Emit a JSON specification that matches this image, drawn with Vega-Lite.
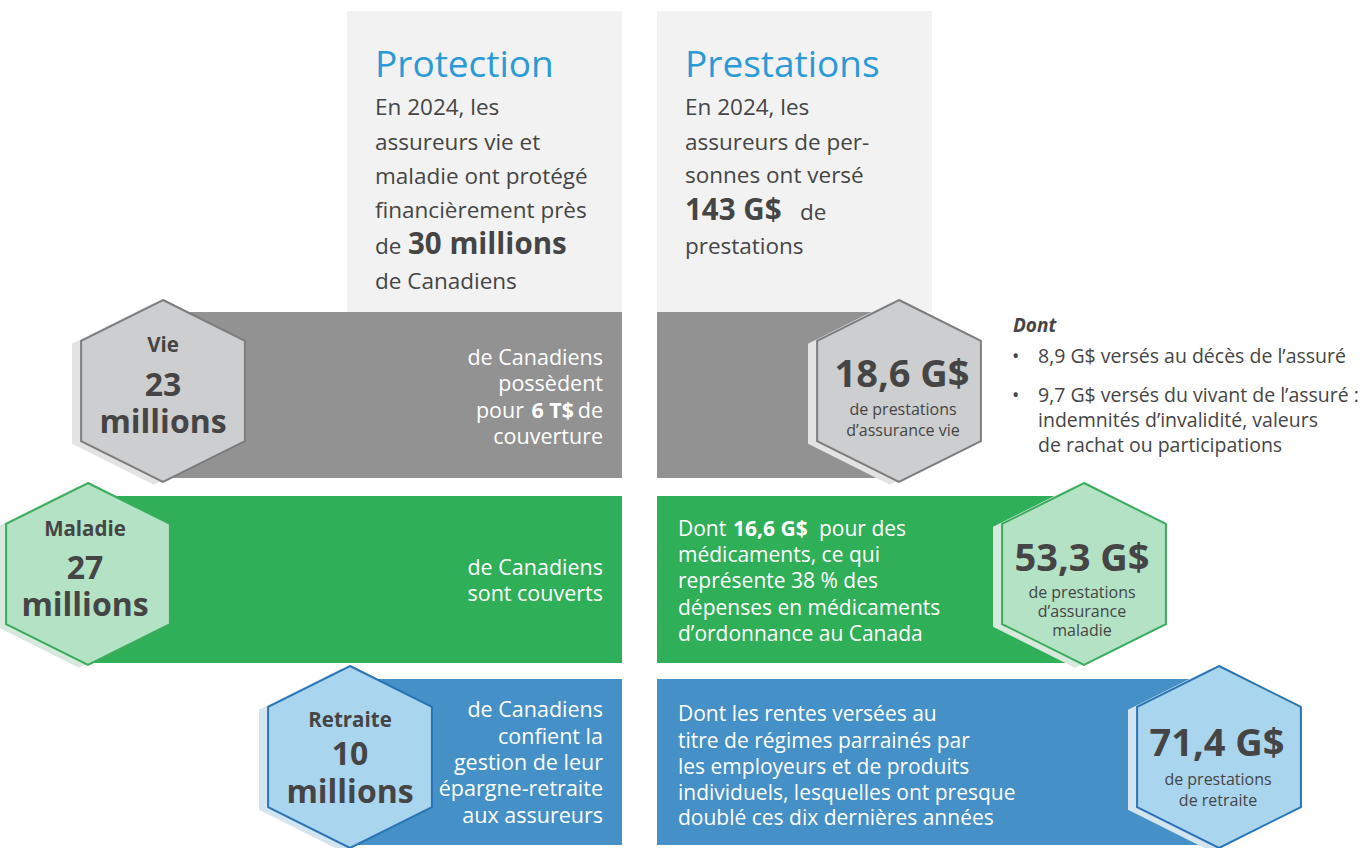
{
  "$schema": "https://vega.github.io/schema/vega-lite/v6.json",
  "width": 1369,
  "height": 848,
  "padding": 0,
  "autosize": {"type": "none"},
  "background": "white",
  "config": {"view": {"stroke": null}, "text": {"font": "Open Sans"}},
  "datasets": {
    "panels": [
      {"x": 347, "x2": 622, "y": 11, "y2": 312, "kind": "header"},
      {"x": 657, "x2": 932, "y": 11, "y2": 312, "kind": "header"},
      {"x": 150, "x2": 622, "y": 312, "y2": 478, "kind": "gray"},
      {"x": 657, "x2": 890, "y": 312, "y2": 478, "kind": "gray"},
      {"x": 90, "x2": 622, "y": 496, "y2": 663, "kind": "green"},
      {"x": 657, "x2": 1075, "y": 496, "y2": 663, "kind": "green"},
      {"x": 355, "x2": 622, "y": 679, "y2": 845, "kind": "blue"},
      {"x": 657, "x2": 1215, "y": 679, "y2": 845, "kind": "blue"}
    ],
    "hexes": [
      {"name": "Vie", "x": 163, "y": 391, "theme": "gray"},
      {"name": "Prestations vie", "x": 899, "y": 391, "theme": "gray"},
      {"name": "Maladie", "x": 88, "y": 574, "theme": "green"},
      {"name": "Prestations maladie", "x": 1084, "y": 574, "theme": "green"},
      {"name": "Retraite", "x": 350, "y": 757, "theme": "blue"},
      {"name": "Prestations retraite", "x": 1219, "y": 757, "theme": "blue"}
    ],
    "texts": [
      {"role": "title", "x": 375, "y": 66, "text": "Protection"},
      {"role": "title", "x": 685, "y": 66, "text": "Prestations"},
      {"role": "body", "x": 375, "y": 108, "text": "En 2024, les"},
      {"role": "body", "x": 375, "y": 143, "text": "assureurs vie et"},
      {"role": "body", "x": 375, "y": 177, "text": "maladie ont protégé"},
      {"role": "body", "x": 375, "y": 211, "text": "financièrement près"},
      {"role": "body", "x": 375, "y": 247, "text": "de"},
      {"role": "body", "x": 375, "y": 282, "text": "de Canadiens"},
      {"role": "body", "x": 685, "y": 108, "text": "En 2024, les"},
      {"role": "body", "x": 685, "y": 143, "text": "assureurs de per-"},
      {"role": "body", "x": 685, "y": 176, "text": "sonnes ont versé"},
      {"role": "body", "x": 800, "y": 213, "text": "de"},
      {"role": "body", "x": 685, "y": 247, "text": "prestations"},
      {"role": "bodybold", "x": 408, "y": 245, "text": "30 millions"},
      {"role": "bodybold", "x": 685, "y": 211, "text": "143 G$"},
      {"role": "bandright", "x": 603, "y": 359, "text": "de Canadiens"},
      {"role": "bandright", "x": 603, "y": 385, "text": "possèdent"},
      {"role": "bandright", "x": 603, "y": 412, "text": "de"},
      {"role": "bandrightbold", "x": 574, "y": 412, "text": "6 T$"},
      {"role": "bandright", "x": 524, "y": 412, "text": "pour"},
      {"role": "bandright", "x": 603, "y": 438, "text": "couverture"},
      {"role": "bandright", "x": 603, "y": 569, "text": "de Canadiens"},
      {"role": "bandright", "x": 603, "y": 595, "text": "sont couverts"},
      {"role": "bandright", "x": 603, "y": 711, "text": "de Canadiens"},
      {"role": "bandright", "x": 603, "y": 738, "text": "confient la"},
      {"role": "bandright", "x": 603, "y": 764, "text": "gestion de leur"},
      {"role": "bandright", "x": 603, "y": 790, "text": "épargne-retraite"},
      {"role": "bandright", "x": 603, "y": 817, "text": "aux assureurs"},
      {"role": "bandleft", "x": 678, "y": 530, "text": "Dont"},
      {"role": "bandleftbold", "x": 733, "y": 530, "text": "16,6 G$"},
      {"role": "bandleft", "x": 819, "y": 530, "text": "pour des"},
      {"role": "bandleft", "x": 678, "y": 556, "text": "médicaments, ce qui"},
      {"role": "bandleft", "x": 678, "y": 582, "text": "représente 38 % des"},
      {"role": "bandleft", "x": 678, "y": 609, "text": "dépenses en médicaments"},
      {"role": "bandleft", "x": 678, "y": 635, "text": "d’ordonnance au Canada"},
      {"role": "bandleft", "x": 678, "y": 715, "text": "Dont les rentes versées au"},
      {"role": "bandleft", "x": 678, "y": 742, "text": "titre de régimes parrainés par"},
      {"role": "bandleft", "x": 678, "y": 768, "text": "les employeurs et de produits"},
      {"role": "bandleft", "x": 678, "y": 794, "text": "individuels, lesquelles ont presque"},
      {"role": "bandleft", "x": 678, "y": 819, "text": "doublé ces dix dernières années"},
      {"role": "hexcat", "x": 163, "y": 346, "text": "Vie"},
      {"role": "hexcat", "x": 85, "y": 530, "text": "Maladie"},
      {"role": "hexcat", "x": 350, "y": 721, "text": "Retraite"},
      {"role": "hexbig", "x": 163, "y": 386, "text": "23"},
      {"role": "hexbig", "x": 163, "y": 423, "text": "millions"},
      {"role": "hexbig", "x": 85, "y": 569, "text": "27"},
      {"role": "hexbig", "x": 85, "y": 606, "text": "millions"},
      {"role": "hexbig", "x": 350, "y": 755, "text": "10"},
      {"role": "hexbig", "x": 350, "y": 793, "text": "millions"},
      {"role": "hexamount", "x": 902, "y": 376, "text": "18,6 G$"},
      {"role": "hexamount", "x": 1082, "y": 560, "text": "53,3 G$"},
      {"role": "hexamount", "x": 1217, "y": 745, "text": "71,4 G$"},
      {"role": "hexsmall", "x": 903, "y": 410, "text": "de prestations"},
      {"role": "hexsmall", "x": 903, "y": 431, "text": "d’assurance vie"},
      {"role": "hexsmall", "x": 1082, "y": 593, "text": "de prestations"},
      {"role": "hexsmall", "x": 1082, "y": 612, "text": "d’assurance"},
      {"role": "hexsmall", "x": 1082, "y": 631, "text": "maladie"},
      {"role": "hexsmall", "x": 1218, "y": 780, "text": "de prestations"},
      {"role": "hexsmall", "x": 1218, "y": 801, "text": "de retraite"},
      {"role": "donthead", "x": 1013, "y": 326, "text": "Dont"},
      {"role": "dont", "x": 1012, "y": 357, "text": "•"},
      {"role": "dont", "x": 1012, "y": 396, "text": "•"},
      {"role": "dont", "x": 1038, "y": 357, "text": "8,9 G$ versés au décès de l’assuré"},
      {"role": "dont", "x": 1038, "y": 396, "text": "9,7 G$ versés du vivant de l’assuré :"},
      {"role": "dont", "x": 1038, "y": 421, "text": "indemnités d’invalidité, valeurs"},
      {"role": "dont", "x": 1038, "y": 446, "text": "de rachat ou participations"}
    ]
  },
  "encoding": {
    "x": {"field": "x", "type": "quantitative", "axis": null, "scale": {"domain": [0, 1369], "range": [0, 1369], "nice": false, "zero": false}},
    "y": {"field": "y", "type": "quantitative", "axis": null, "scale": {"domain": [0, 848], "range": [0, 848], "nice": false, "zero": false}}
  },
  "layer": [
    {
      "data": {"name": "panels"},
      "mark": {"type": "rect"},
      "encoding": {
        "x2": {"field": "x2"},
        "y2": {"field": "y2"},
        "fill": {"field": "kind", "type": "nominal", "legend": null,
          "scale": {"domain": ["header", "gray", "green", "blue"], "range": ["#f2f2f2", "#929292", "#2faf58", "#4590c7"]}}
      }
    },
    {
      "data": {"name": "hexes"},
      "mark": {"type": "point", "filled": true, "size": 33124, "opacity": 1, "strokeWidth": 0,
        "shape": "M-0.1,-0.97L0.8,-0.52L0.8,0.58L-0.1,1.03L-1.0,0.58L-1.0,-0.52Z"},
      "encoding": {
        "fill": {"field": "theme", "type": "nominal", "legend": null,
          "scale": {"domain": ["gray", "green", "blue"], "range": ["#e3e3e4", "#d6e9dc", "#d3e5f1"]}}
      }
    },
    {
      "data": {"name": "hexes"},
      "mark": {"type": "point", "filled": true, "size": 33124, "opacity": 1, "strokeWidth": 2,
        "shape": "M0,-1L0.9,-0.55L0.9,0.55L0,1L-0.9,0.55L-0.9,-0.55Z"},
      "encoding": {
        "fill": {"field": "theme", "type": "nominal", "legend": null,
          "scale": {"domain": ["gray", "green", "blue"], "range": ["#cdcecf", "#b3e2c5", "#a9d6ee"]}},
        "stroke": {"field": "theme", "type": "nominal", "legend": null,
          "scale": {"domain": ["gray", "green", "blue"], "range": ["#7d7d7d", "#3aab5c", "#2a74b6"]}}
      }
    },
    {
      "data": {"name": "texts"},
      "transform": [{"filter": "datum.role === 'title'"}],
      "mark": {"type": "text", "align": "left", "baseline": "middle", "fontSize": 37, "color": "#2b9ad6"},
      "encoding": {"text": {"field": "text"}}
    },
    {
      "data": {"name": "texts"},
      "transform": [{"filter": "datum.role === 'body'"}],
      "mark": {"type": "text", "align": "left", "baseline": "middle", "fontSize": 22.5, "color": "#454545"},
      "encoding": {"text": {"field": "text"}}
    },
    {
      "data": {"name": "texts"},
      "transform": [{"filter": "datum.role === 'bodybold'"}],
      "mark": {"type": "text", "align": "left", "baseline": "middle", "fontSize": 29.5, "fontWeight": "bold", "color": "#454545"},
      "encoding": {"text": {"field": "text"}}
    },
    {
      "data": {"name": "texts"},
      "transform": [{"filter": "datum.role === 'bandright'"}],
      "mark": {"type": "text", "align": "right", "baseline": "middle", "fontSize": 21.5, "color": "white"},
      "encoding": {"text": {"field": "text"}}
    },
    {
      "data": {"name": "texts"},
      "transform": [{"filter": "datum.role === 'bandrightbold'"}],
      "mark": {"type": "text", "align": "right", "baseline": "middle", "fontSize": 21.5, "fontWeight": "bold", "color": "white"},
      "encoding": {"text": {"field": "text"}}
    },
    {
      "data": {"name": "texts"},
      "transform": [{"filter": "datum.role === 'bandleft'"}],
      "mark": {"type": "text", "align": "left", "baseline": "middle", "fontSize": 21, "color": "white"},
      "encoding": {"text": {"field": "text"}}
    },
    {
      "data": {"name": "texts"},
      "transform": [{"filter": "datum.role === 'bandleftbold'"}],
      "mark": {"type": "text", "align": "left", "baseline": "middle", "fontSize": 21, "fontWeight": "bold", "color": "white"},
      "encoding": {"text": {"field": "text"}}
    },
    {
      "data": {"name": "texts"},
      "transform": [{"filter": "datum.role === 'hexcat'"}],
      "mark": {"type": "text", "align": "center", "baseline": "middle", "fontSize": 20.5, "fontWeight": "bold", "color": "#454545"},
      "encoding": {"text": {"field": "text"}}
    },
    {
      "data": {"name": "texts"},
      "transform": [{"filter": "datum.role === 'hexbig'"}],
      "mark": {"type": "text", "align": "center", "baseline": "middle", "fontSize": 32, "fontWeight": "bold", "color": "#454545"},
      "encoding": {"text": {"field": "text"}}
    },
    {
      "data": {"name": "texts"},
      "transform": [{"filter": "datum.role === 'hexamount'"}],
      "mark": {"type": "text", "align": "center", "baseline": "middle", "fontSize": 38, "fontWeight": "bold", "color": "#454545"},
      "encoding": {"text": {"field": "text"}}
    },
    {
      "data": {"name": "texts"},
      "transform": [{"filter": "datum.role === 'hexsmall'"}],
      "mark": {"type": "text", "align": "center", "baseline": "middle", "fontSize": 16, "color": "#454545"},
      "encoding": {"text": {"field": "text"}}
    },
    {
      "data": {"name": "texts"},
      "transform": [{"filter": "datum.role === 'donthead'"}],
      "mark": {"type": "text", "align": "left", "baseline": "middle", "fontSize": 19, "fontWeight": "bold", "fontStyle": "italic", "color": "#454545"},
      "encoding": {"text": {"field": "text"}}
    },
    {
      "data": {"name": "texts"},
      "transform": [{"filter": "datum.role === 'dont'"}],
      "mark": {"type": "text", "align": "left", "baseline": "middle", "fontSize": 19.5, "color": "#454545"},
      "encoding": {"text": {"field": "text"}}
    }
  ],
  "resolve": {"scale": {"fill": "independent", "stroke": "independent"}}
}
